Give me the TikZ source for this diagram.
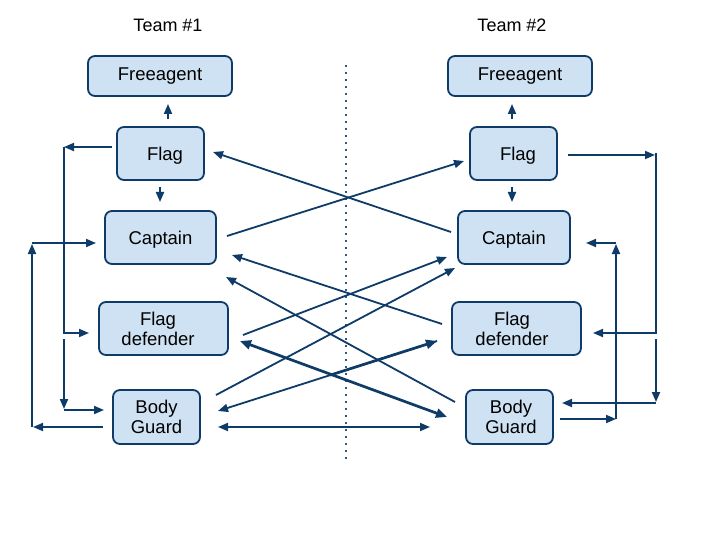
\documentclass[tikz,border=0pt]{standalone}
\usepackage{fontspec}
\setmainfont{Liberation Sans}
\usetikzlibrary{arrows.meta}
\definecolor{navy}{RGB}{14,59,103}
\definecolor{boxfill}{RGB}{207,226,243}
\newcommand{\lowerby}[2]{\raisebox{-#1}[\height][\depth]{#2}}
\begin{document}
\begin{tikzpicture}[x=1pt,y=-1pt,
  box/.style={draw=navy, line width=1.8pt, fill=boxfill, rounded corners=7pt,
    inner sep=0pt, font=\fontsize{18.5}{20}\selectfont},
  title/.style={font=\fontsize{18}{20}\selectfont, inner sep=0pt},
  conn/.style={draw=navy, line width=1.8pt, -{Triangle[length=10pt,width=8pt]}},
  both/.style={draw=navy, line width=1.8pt, {Triangle[length=10pt,width=8pt]}-{Triangle[length=10pt,width=8pt]}},
  thick2/.style={draw=navy, line width=2.7pt, {Triangle[length=11pt,width=9pt]}-{Triangle[length=11pt,width=9pt]}},
  thick1/.style={draw=navy, line width=2.7pt, -{Triangle[length=11pt,width=9pt]}},
  sep/.style={draw=navy!85, line width=2pt, dash pattern=on 2pt off 5pt}
]
\useasboundingbox (0,0) rectangle (720,540);

% titles
\node[title] (t1) at (168,25) {Team \#1};
\node[title] (t2) at (512,25) {Team \#2};

% separator
\coordinate (d1) at (346,65);
\coordinate (d2) at (346,460);
\draw[sep] (d1) -- (d2);

% team 1 boxes
\node[box, minimum width=144pt, minimum height=40pt] (freeL) at (160,76) {Freeagent};
\node[box, minimum width=87pt, minimum height=53pt] (flagL) at (160.5,153.5) {\lowerby{2pt}{\hspace*{9pt}Flag}};
\node[box, minimum width=111pt, minimum height=53pt] (capL) at (160.5,237.5) {\lowerby{2pt}{Captain}};
\node[box, minimum width=129pt, minimum height=53pt] (fdL) at (163.5,328.5) {\lowerby{3pt}{\begin{tabular}{@{}c@{}}Flag\\defender\end{tabular}}\hspace*{11pt}};
\node[box, minimum width=87pt, minimum height=54pt] (bgL) at (156.5,417) {\lowerby{2pt}{\begin{tabular}{@{}c@{}}Body\\Guard\end{tabular}}};

% team 2 boxes
\node[box, minimum width=144pt, minimum height=40pt] (freeR) at (520,76) {Freeagent};
\node[box, minimum width=87pt, minimum height=53pt] (flagR) at (513.5,153.5) {\lowerby{2pt}{\hspace*{9pt}Flag}};
\node[box, minimum width=112pt, minimum height=53pt] (capR) at (514,237.5) {\lowerby{2pt}{Captain}};
\node[box, minimum width=129pt, minimum height=53pt] (fdR) at (516.5,328.5) {\lowerby{3pt}{\begin{tabular}{@{}c@{}}Flag\\defender\end{tabular}}\hspace*{9pt}};
\node[box, minimum width=87pt, minimum height=54pt] (bgR) at (509.5,417) {\hspace*{3pt}\lowerby{2pt}{\begin{tabular}{@{}c@{}}Body\\Guard\end{tabular}}};

% short vertical arrows
\coordinate (fl1) at (168,119); \coordinate (fl2) at (168,104);
\draw[conn] (fl1) -- (fl2);
\coordinate (fl3) at (160,187); \coordinate (fl4) at (160,202);
\draw[conn] (fl3) -- (fl4);
\coordinate (fr1) at (512,119); \coordinate (fr2) at (512,104);
\draw[conn] (fr1) -- (fr2);
\coordinate (fr3) at (512,187); \coordinate (fr4) at (512,202);
\draw[conn] (fr3) -- (fr4);

% left inner bracket
\coordinate (a1) at (112,147); \coordinate (a2) at (64,147);
\coordinate (a3) at (64,333); \coordinate (a4) at (89,333);
\coordinate (a5) at (64,339); \coordinate (a6) at (64,409);
\coordinate (a7) at (64,410); \coordinate (a8) at (104,410);
\draw[conn] (a1) -- (a2);
\draw[conn] (a2) -- (a3) -- (a4);
\draw[conn] (a5) -- (a6);
\draw[conn] (a7) -- (a8);

% left outer bracket
\coordinate (b1) at (103,427); \coordinate (b2) at (33,427);
\coordinate (b3) at (32,427); \coordinate (b4) at (32,244);
\coordinate (b5) at (32,243); \coordinate (b6) at (96,243);
\draw[conn] (b1) -- (b2);
\draw[conn] (b3) -- (b4);
\draw[conn] (b5) -- (b6);

% right inner bracket
\coordinate (c1) at (568,155); \coordinate (c2) at (655,155);
\coordinate (c3) at (656,153); \coordinate (c4) at (656,333);
\coordinate (c5) at (593,333);
\coordinate (c6) at (656,339); \coordinate (c7) at (656,402);
\coordinate (c8) at (656,403); \coordinate (c9) at (562,403);
\draw[conn] (c1) -- (c2);
\draw[conn] (c3) -- (c4) -- (c5);
\draw[conn] (c6) -- (c7);
\draw[conn] (c8) -- (c9);

% right outer bracket
\coordinate (e1) at (560,419); \coordinate (e2) at (616,419);
\coordinate (e3) at (616,244);
\coordinate (e4) at (616,243); \coordinate (e5) at (586,243);
\draw[conn] (e1) -- (e2);
\draw[conn] (e2) -- (e3);
\draw[conn] (e4) -- (e5);

% cross connectors
\coordinate (x1s) at (451,232); \coordinate (x1e) at (213,152);
\draw[conn] (x1s) -- (x1e);
\coordinate (x2s) at (227,236); \coordinate (x2e) at (464,161);
\draw[conn] (x2s) -- (x2e);
\coordinate (x3s) at (442,324); \coordinate (x3e) at (232,255);
\draw[conn] (x3s) -- (x3e);
\coordinate (x4s) at (455,402); \coordinate (x4e) at (226,277);
\draw[conn] (x4s) -- (x4e);
\coordinate (x5s) at (243,335); \coordinate (x5e) at (447,257);
\draw[conn] (x5s) -- (x5e);
\coordinate (x6s) at (216,395); \coordinate (x6e) at (455,268);
\draw[conn] (x6s) -- (x6e);
\coordinate (x7s) at (240,341); \coordinate (x7e) at (447,417);
\draw[thick2] (x7s) -- (x7e);
\coordinate (x8s) at (437,341); \coordinate (x8e) at (218,411);
\coordinate (x8m) at (330,375.2);
\draw[conn] (x8s) -- (x8e);
\draw[thick1] (x8m) -- (x8s);
\coordinate (x9s) at (218,427); \coordinate (x9e) at (430,427);
\draw[both] (x9s) -- (x9e);
\end{tikzpicture}
\end{document}
